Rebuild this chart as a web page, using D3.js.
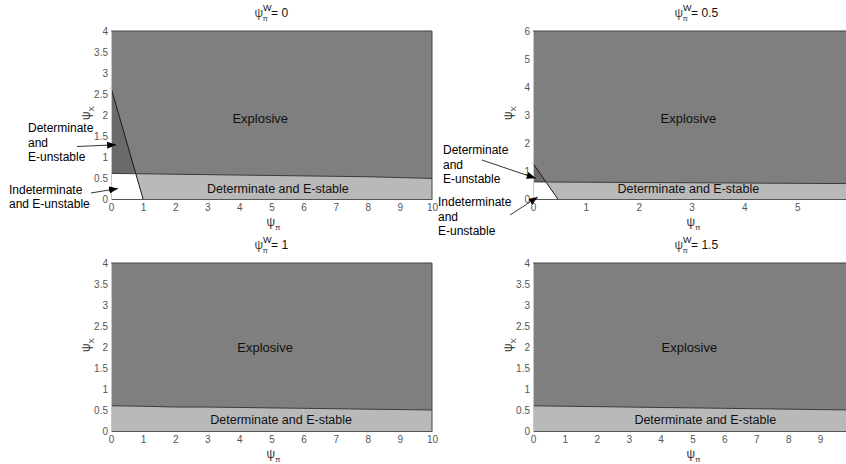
<!DOCTYPE html>
<html>
<head>
<meta charset="utf-8">
<script src="https://cdn.jsdelivr.net/npm/d3@7"></script>
<style>
  body { margin: 0; background: #fff; }
  text { font-family: "Liberation Sans", Arial, sans-serif; }
</style>
</head>
<body>
<div id="chart"></div>
<script>
var svgWidth = 846;
var svgHeight = 464;

// ---- data ----
var psiW = ["0", "0.5", "1", "1.5"];
var psiPiMax = [10, 6, 10, 10];
var psiXMax = [4, 6, 4, 4];
var psiPiGrid = [0, 1, 2, 3, 4, 5, 6, 7, 8, 9, 10];
// upper edge of the "Determinate and E-stable" band, one value per psiPi grid point
var stableTop = [
  [0.61, 0.60, 0.59, 0.58, 0.57, 0.56, 0.55, 0.54, 0.53, 0.51, 0.49],
  [0.61, 0.60, 0.59, 0.58, 0.57, 0.56, 0.55],
  [0.60, 0.59, 0.57, 0.57, 0.56, 0.55, 0.54, 0.53, 0.52, 0.51, 0.50],
  [0.60, 0.59, 0.58, 0.57, 0.56, 0.55, 0.54, 0.53, 0.52, 0.51, 0.50]
];
// indeterminacy line: [psiX intercept at psiPi = 0, psiPi intercept at psiX = 0]
var indetLine = [[2.65, 1.0], [1.27, 0.47], null, null];
// ticks visible in the (right-cropped) picture
var xTicks = [
  [0, 1, 2, 3, 4, 5, 6, 7, 8, 9, 10],
  [0, 1, 2, 3, 4, 5],
  [0, 1, 2, 3, 4, 5, 6, 7, 8, 9, 10],
  [0, 1, 2, 3, 4, 5, 6, 7, 8, 9]
];
var yTicks = [
  [0, 0.5, 1, 1.5, 2, 2.5, 3, 3.5, 4],
  [0, 1, 2, 3, 4, 5, 6],
  [0, 0.5, 1, 1.5, 2, 2.5, 3, 3.5, 4],
  [0, 0.5, 1, 1.5, 2, 2.5, 3, 3.5, 4]
];
var regionNames = ["Explosive", "Determinate and E-stable"];

// ---- layout ----
var boxes = [
  {left: 111, right: 432, top: 31, bottom: 199},
  {left: 533, right: 850, top: 31, bottom: 199},
  {left: 111, right: 432, top: 263, bottom: 431},
  {left: 533, right: 852, top: 263, bottom: 431}
];
// label anchors as fraction of plot box (x, y from top)
var explosiveAt = [[0.465, 0.52], [0.49, 0.52], [0.48, 0.5], [0.49, 0.5]];
var stableAt = [[0.52, 0.94], [0.49, 0.94], [0.53, 0.93], [0.54, 0.93]];

var colExplosive = "#7f7f7f";
var colUnstable = "#6a6a6a";
var colStable = "#b9b9b9";

var svg = d3.select("#chart")
  .append("svg")
  .attr("width", svgWidth)
  .attr("height", svgHeight);

svg.append("defs").append("marker")
  .attr("id", "arrow")
  .attr("markerUnits", "userSpaceOnUse")
  .attr("markerWidth", 10)
  .attr("markerHeight", 8)
  .attr("refX", 9)
  .attr("refY", 3.5)
  .attr("orient", "auto")
  .append("path")
  .attr("d", "M0,0 L9,3.5 L0,7 Z")
  .attr("fill", "#000");

var scales = [];

psiW.forEach(function(w, i) {
  var b = boxes[i];
  var x = d3.scaleLinear().domain([0, psiPiMax[i]]).range([b.left, b.right]);
  var y = d3.scaleLinear().domain([0, psiXMax[i]]).range([b.bottom, b.top]);
  scales.push({x: x, y: y});

  var g = svg.append("g");

  var edge = psiPiGrid
    .filter(function(p) { return p <= psiPiMax[i]; })
    .map(function(p, k) { return [p, stableTop[i][k]]; });

  // explosive everywhere
  g.append("rect")
    .attr("x", b.left)
    .attr("y", b.top)
    .attr("width", b.right - b.left)
    .attr("height", b.bottom - b.top)
    .attr("fill", colExplosive);

  // determinate and E-stable band
  g.append("path")
    .datum(edge)
    .attr("fill", colStable)
    .attr("d", d3.area()
      .x(function(d) { return x(d[0]); })
      .y0(y(0))
      .y1(function(d) { return y(d[1]); }));

  var line = d3.line()
    .x(function(d) { return x(d[0]); })
    .y(function(d) { return y(d[1]); });

  if (indetLine[i]) {
    var yInt = indetLine[i][0];
    var xInt = indetLine[i][1];
    var b0 = stableTop[i][0];
    var xCross = xInt * (1 - b0 / yInt);

    g.append("path")
      .datum([[0, b0], [0, yInt], [xCross, b0]])
      .attr("fill", colUnstable)
      .attr("d", line);

    g.append("path")
      .datum([[0, 0], [xInt, 0], [xCross, b0], [0, b0]])
      .attr("fill", "#fff")
      .attr("d", line);

    g.append("path")
      .datum([[0, yInt], [xInt, 0]])
      .attr("fill", "none")
      .attr("stroke", "#1a1a1a")
      .attr("stroke-width", 1)
      .attr("d", line);
  }

  g.append("path")
    .datum(edge)
    .attr("fill", "none")
    .attr("stroke", "#3a3a3a")
    .attr("stroke-width", 1)
    .attr("d", line);

  // frame
  g.append("path")
    .attr("d", "M" + b.left + "," + b.top + "H" + b.right + "V" + b.bottom)
    .attr("fill", "none")
    .attr("stroke", "#444")
    .attr("stroke-width", 1);

  var fmt = d3.format("~g");
  var bottomAxis = d3.axisBottom(x).tickValues(xTicks[i]).tickFormat(fmt).tickSize(0).tickPadding(5);
  var leftAxis = d3.axisLeft(y).tickValues(yTicks[i]).tickFormat(fmt).tickSize(0).tickPadding(3);

  var gx = g.append("g")
    .attr("transform", "translate(0," + b.bottom + ")")
    .call(bottomAxis);
  gx.select(".domain").attr("stroke", "#555");

  var gy = g.append("g")
    .attr("transform", "translate(" + b.left + ",0)")
    .call(leftAxis);
  gy.select(".domain").attr("stroke", "#c8c8c8");

  g.selectAll(".tick text")
    .attr("fill", "#555")
    .style("font-size", "10px");

  // region labels
  g.append("text")
    .attr("x", b.left + explosiveAt[i][0] * (b.right - b.left))
    .attr("y", b.top + explosiveAt[i][1] * (b.bottom - b.top))
    .attr("dy", "0.35em")
    .attr("text-anchor", "middle")
    .style("font-size", "13px")
    .attr("fill", "#111")
    .text(regionNames[0]);

  g.append("text")
    .attr("x", b.left + stableAt[i][0] * (b.right - b.left))
    .attr("y", b.top + stableAt[i][1] * (b.bottom - b.top))
    .attr("dy", "0.35em")
    .attr("text-anchor", "middle")
    .style("font-size", "12.5px")
    .attr("fill", "#111")
    .text(regionNames[1]);

  // title: psi_pi^W = value
  var cx = (b.left + Math.min(b.right, 850)) / 2;
  var title = g.append("text")
    .attr("x", cx - 17)
    .attr("y", b.top - 14)
    .attr("fill", "#111")
    .style("font-size", "12px");
  title.append("tspan").attr("fill", "#444").text("ψ");
  title.append("tspan").attr("dy", -6).style("font-size", "9px").text("W");
  title.append("tspan").attr("dx", -9).attr("dy", 10).style("font-size", "8px").attr("fill", "#444").text("π");
  title.append("tspan").attr("dx", 3).attr("dy", -4).text("= " + w);

  // x label
  var xl = g.append("text")
    .attr("x", (b.left + Math.min(b.right, 850)) / 2 - 5)
    .attr("y", b.bottom + 27)
    .attr("fill", "#333")
    .style("font-size", "12px");
  xl.append("tspan").text("ψ");
  xl.append("tspan").attr("dy", 4).style("font-size", "8px").text("π");

  // y label
  var yl = g.append("text")
    .attr("transform", "translate(" + (b.left - 21) + "," + ((b.top + b.bottom) / 2 + 5) + ") rotate(-90)")
    .attr("fill", "#333")
    .style("font-size", "12px");
  yl.append("tspan").text("ψ");
  yl.append("tspan").attr("dy", 4).style("font-size", "8px").text("X");
});

// ---- annotations for the two upper panels ----
var notes = [
  {panel: 0, lines: ["Determinate", "and", "E-unstable"], tx: 28, ty: 132, lh: 14.5, from: [77, 146.5], to: [0.16, 1.29]},
  {panel: 0, lines: ["Indeterminate", "and E-unstable"], tx: 9, ty: 194, lh: 14, from: [91, 193], to: [0.22, 0.25]},
  {panel: 1, lines: ["Determinate", "and", "E-unstable"], tx: 443, ty: 154, lh: 14.5, from: [482, 160], to: [0.05, 0.74]},
  {panel: 1, lines: ["Indeterminate", "and", "E-unstable"], tx: 438, ty: 206, lh: 14.5, from: [510, 215], to: [0.09, 0.07]}
];

notes.forEach(function(n) {
  var s = scales[n.panel];
  var t = svg.append("text")
    .attr("x", n.tx)
    .attr("y", n.ty)
    .attr("fill", "#000")
    .style("font-size", "12px");
  n.lines.forEach(function(l, k) {
    t.append("tspan")
      .attr("x", n.tx)
      .attr("y", n.ty + k * n.lh)
      .text(l);
  });
  svg.append("line")
    .attr("x1", n.from[0])
    .attr("y1", n.from[1])
    .attr("x2", s.x(n.to[0]))
    .attr("y2", s.y(n.to[1]))
    .attr("stroke", "#000")
    .attr("stroke-width", 0.8)
    .attr("marker-end", "url(#arrow)");
});
</script>
</body>
</html>
